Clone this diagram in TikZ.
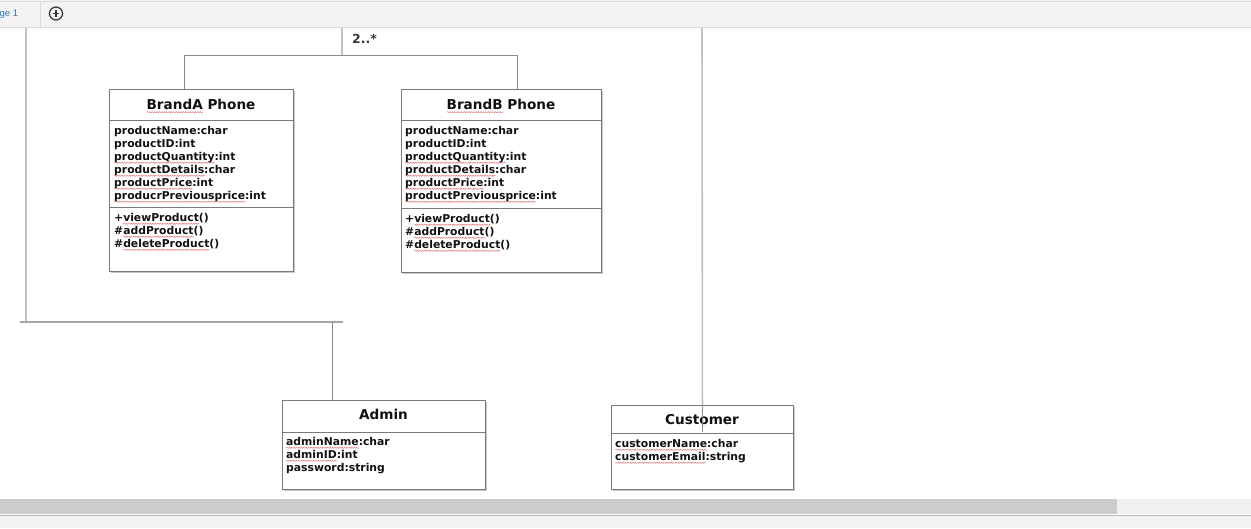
\documentclass[tikz,border=0pt]{standalone}
\usepackage{fontspec}
\setmainfont{DejaVu Sans}
\newfontfamily\uifont{Liberation Sans}
\usetikzlibrary{calc,decorations.pathmorphing}
\definecolor{sqred}{HTML}{E07070}
\definecolor{boxgray}{HTML}{7A7A7A}
\definecolor{shadowgray}{HTML}{C6C6C6}
\definecolor{conngray}{HTML}{8A8A8A}
\definecolor{lightgray}{HTML}{C2C2C2}
\definecolor{barbg}{HTML}{F3F3F3}
\definecolor{barline}{HTML}{DADADA}
\definecolor{tabblue}{HTML}{2F74B5}
\definecolor{thumb}{HTML}{CCCCCC}
\definecolor{track}{HTML}{F0F0F0}
\definecolor{txt}{HTML}{111111}
\newsavebox\sqbox
\newcommand\sq[1]{\sbox\sqbox{#1}\smash{\rlap{\begin{tikzpicture}[baseline=0pt,x=1pt,y=1pt]\draw[sqred,line width=0.45pt,decorate,decoration={zigzag,segment length=2.4pt,amplitude=0.6pt}] (0pt,-2.6pt) -- (\wd\sqbox,-2.6pt);\end{tikzpicture}}}\usebox\sqbox}
\begin{document}
\begin{tikzpicture}[x=1pt,y=-1pt,
  classbox/.style={draw=boxgray, line width=0.9pt, fill=white, rectangle, inner sep=0pt, anchor=north west},
  divider/.style={draw=boxgray, line width=0.8pt},
  titletext/.style={font=\bfseries\fontsize{13.6}{15}\selectfont, text=txt, inner sep=0pt},
  attr/.style={font=\bfseries\fontsize{10.8}{13}\selectfont, text=txt, align=left, inner sep=0pt, anchor=north west},
  conn/.style={draw=conngray, line width=0.9pt},
  lightconn/.style={draw=lightgray, line width=1.6pt},
  shadow/.style={fill=shadowgray}
]
\useasboundingbox (0,0) rectangle (1251,528);
\fill[white] (0,0) rectangle (1251,528);

\coordinate (ltop) at (26,27);
\coordinate (lbot) at (26,322);
\coordinate (hl) at (20,322);
\coordinate (hr) at (343,322);
\coordinate (adj) at (332,322);
\coordinate (ttop) at (342,27);
\coordinate (tj) at (342,55);
\coordinate (aL) at (184,55);
\coordinate (aR) at (517,55);
\coordinate (ctop) at (702,27);

% ---------- BrandA ----------
\fill[shadow] (110.5,90.5) rectangle (294.8,272.8);
\node[classbox, minimum width=184pt, minimum height=182pt] (A) at (109,89) {};
\draw[divider] (109,120) -- (293,120);
\draw[divider] (109,207) -- (293,207);
\node[titletext] (At) at (201,104.5) {\sq{BrandA} Phone};
\node[attr] (Aa) at (114,124.9) {\strut productName:char\\productID:int\\\sq{productQuantity}:int\\\sq{productDetails}:char\\\sq{productPrice}:int\\\sq{producrPreviousprice}:int};
\node[attr] (Am) at (114,211.9) {\strut +\sq{viewProduct}()\\\#\sq{addProduct}()\\\#\sq{deleteProduct}()};

% ---------- BrandB ----------
\fill[shadow] (402.5,90.5) rectangle (602.8,273.8);
\node[classbox, minimum width=200pt, minimum height=183pt] (B) at (401,89) {};
\draw[divider] (401,120) -- (601,120);
\draw[divider] (401,208) -- (601,208);
\node[titletext] (Bt) at (501,104.5) {\sq{BrandB} Phone};
\node[attr] (Ba) at (405,124.9) {\strut productName:char\\productID:int\\\sq{productQuantity}:int\\\sq{productDetails}:char\\\sq{productPrice}:int\\\sq{productPreviousprice}:int};
\node[attr] (Bm) at (405,212.9) {\strut +\sq{viewProduct}()\\\#\sq{addProduct}()\\\#\sq{deleteProduct}()};

% ---------- Admin ----------
\fill[shadow] (283.5,401.5) rectangle (486.8,490.8);
\node[classbox, minimum width=203pt, minimum height=89pt] (Ad) at (282,400) {};
\draw[divider] (282,432) -- (485,432);
\node[titletext] (Adt) at (383.5,414.5) {Admin};
\node[attr] (Ada) at (286,435.9) {\strut \sq{adminName}:char\\\sq{adminID}:int\\password:string};

% ---------- Customer ----------
\fill[shadow] (612.5,406.5) rectangle (794.8,490.8);
\node[classbox, minimum width=182pt, minimum height=84pt] (C) at (611,405) {};
\draw[divider] (611,433) -- (793,433);
\node[titletext] (Ct) at (702,419.5) {Customer};
\node[attr] (Ca) at (615,437.9) {\strut \sq{customerName}:char\\\sq{customerEmail}:string};

% ---------- connectors ----------
\draw[lightconn] (ltop) -- (lbot);
\draw[draw=lightgray!85!black, line width=1.1pt] (hl) -- (hr);
\draw[conn] (adj) -- (Ad.north -| adj);
\draw[lightconn] (ttop) -- (tj);
\draw[conn] (A.north -| aL) -- (aL) -- (aR) -- (B.north -| aR);
\node[font=\bfseries\fontsize{12.5}{14}\selectfont, text=black!78, anchor=west, inner sep=0pt] (mult) at (352,38.5) {2..*};
\draw[lightconn] (ctop) -- (C.north);
\draw[conn] (C.north) -- ([yshift=-27pt]C.north);

% ---------- tab bar ----------
\fill[barbg] (0,0) rectangle (1251,27);
\draw[barline, line width=1pt] (0,1.3) -- (1251,1.3);
\draw[barline, line width=1pt] (0,27.3) -- (1251,27.3);
\draw[barline, line width=1pt] (40.5,1.3) -- (40.5,27.3);
\node[font=\uifont\fontsize{9.5}{10}\selectfont, text=tabblue, anchor=west, inner sep=0pt] (tab) at (-0.5,14) {ge 1};
\node[circle, draw=black!80, line width=1.2pt, minimum size=13pt, inner sep=0pt] (plus) at (56,13.5) {};
\draw[black!80, line width=1.5pt] ([xshift=-3.4pt]plus.center) -- ([xshift=3.4pt]plus.center);
\draw[black!80, line width=1.5pt] ([yshift=-3.4pt]plus.center) -- ([yshift=3.4pt]plus.center);

% ---------- scrollbar ----------
\fill[thumb] (0,499) rectangle (1117,514);
\fill[track] (1117,499) rectangle (1251,514);
\fill[barbg] (0,515.5) rectangle (1251,528);
\draw[thumb!90!black, line width=0.9pt] (0,515.2) -- (1251,515.2);
\end{tikzpicture}
\end{document}
